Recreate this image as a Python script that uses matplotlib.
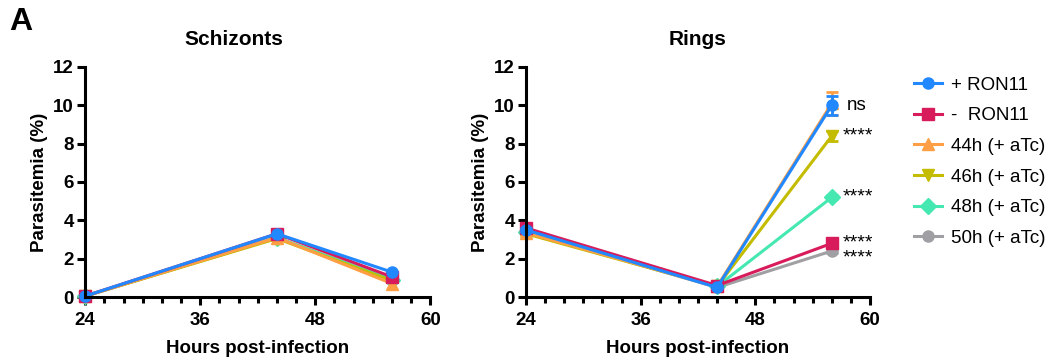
import matplotlib
matplotlib.use("Agg")
import matplotlib.pyplot as plt
from matplotlib.ticker import MultipleLocator

plt.rcParams['font.family'] = ['Liberation Sans', 'DejaVu Sans']

# data
hours = [24, 44, 56]
groups = ['+ RON11', '-  RON11', '44h (+ aTc)', '46h (+ aTc)', '48h (+ aTc)', '50h (+ aTc)']
colors = ['#2288ff', '#d81b5a', '#ff9f45', '#c4bc00', '#45e8b0', '#a0a0a4']
markers = ['o', 's', '^', 'v', 'D', 'o']

schizonts = {
    '+ RON11':     [0.05, 3.30, 1.30],
    '-  RON11':    [0.05, 3.30, 1.05],
    '44h (+ aTc)': [0.05, 3.10, 0.70],
    '46h (+ aTc)': [0.05, 3.05, 0.85],
    '48h (+ aTc)': [0.05, 3.10, 0.90],
    '50h (+ aTc)': [0.05, 3.10, 0.90],
}
rings = {
    '+ RON11':     [3.50, 0.50, 10.00],
    '-  RON11':    [3.60, 0.60, 2.80],
    '44h (+ aTc)': [3.35, 0.55, 10.10],
    '46h (+ aTc)': [3.30, 0.55, 8.40],
    '48h (+ aTc)': [3.40, 0.55, 5.20],
    '50h (+ aTc)': [3.40, 0.50, 2.40],
}
rings_err = {
    '+ RON11':     [0.10, 0.05, 0.50],
    '-  RON11':    [0.10, 0.05, 0.10],
    '44h (+ aTc)': [0.10, 0.05, 0.60],
    '46h (+ aTc)': [0.10, 0.05, 0.25],
    '48h (+ aTc)': [0.10, 0.05, 0.10],
    '50h (+ aTc)': [0.10, 0.05, 0.10],
}
# significance vs + RON11 (last two stacked: - RON11 and 50h)
sig_labels = ['ns', '****', '****', '****\n****']
sig_y = [10.0, 8.4, 5.2, 2.45]

fig = plt.figure(figsize=(10.52, 3.64), dpi=100)
ax1 = fig.add_axes([0.081, 0.184, 0.328, 0.632])
ax2 = fig.add_axes([0.500, 0.184, 0.327, 0.632])

draw_order = [5, 4, 3, 2, 1, 0]

def style(ax, title, tx):
    ax.set_xlim(24, 60)
    ax.set_ylim(0, 12)
    ax.set_xticks([24, 36, 48, 60])
    ax.xaxis.set_minor_locator(MultipleLocator(2))
    ax.set_yticks(range(0, 13, 2))
    for s in ['top', 'right']:
        ax.spines[s].set_visible(False)
    for s in ['left', 'bottom']:
        ax.spines[s].set_linewidth(2.2)
        ax.spines[s].set_zorder(10)
    ax.tick_params(which='major', length=6, width=2.2, labelsize=13.5, pad=5)
    ax.tick_params(axis='y', which='major', pad=2)
    ax.tick_params(which='minor', length=4, width=2.2)
    for lab in ax.get_xticklabels() + ax.get_yticklabels():
        lab.set_fontweight('bold')
    ax.set_xlabel('Hours post-infection', fontsize=13.5, fontweight='bold', labelpad=8)
    ax.set_ylabel('Parasitemia (%)', fontsize=13.5, fontweight='bold', labelpad=4)
    ax.set_title(title, fontsize=15, fontweight='bold', pad=16, x=tx)

for i in draw_order:
    g = groups[i]
    ax1.plot(hours, schizonts[g], color=colors[i], marker=markers[i], markersize=8,
             linewidth=2.2, clip_on=False, zorder=3 + (5 - i))
for i in draw_order:
    g = groups[i]
    ax2.errorbar(hours, rings[g], yerr=rings_err[g], color=colors[i], marker=markers[i],
                 markersize=8, linewidth=2.2, capsize=4, capthick=2, elinewidth=2,
                 clip_on=False, zorder=3 + (5 - i), label=g)

style(ax1, 'Schizonts', 0.43)
style(ax2, 'Rings', 0.5)

ax2.text(57.6, sig_y[0], sig_labels[0], fontsize=13.5, va='center', ha='left')
for lab, y in zip(sig_labels[1:], sig_y[1:]):
    ax2.text(57.1, y, lab, fontsize=14, va='center', ha='left', linespacing=0.85)

lines = [plt.Line2D([], [], color=colors[i], marker=markers[i], markersize=8, linewidth=2.2)
         for i in range(len(groups))]
fig.legend(lines, groups, loc='upper left', bbox_to_anchor=(0.862, 0.81), frameon=False,
           fontsize=13.5, handlelength=1.45, labelspacing=0.72, handletextpad=0.5,
           borderaxespad=0)

fig.text(0.009, 0.94, 'A', fontsize=23, fontweight='bold', va='center')

fig.savefig('out.png', dpi=100)
